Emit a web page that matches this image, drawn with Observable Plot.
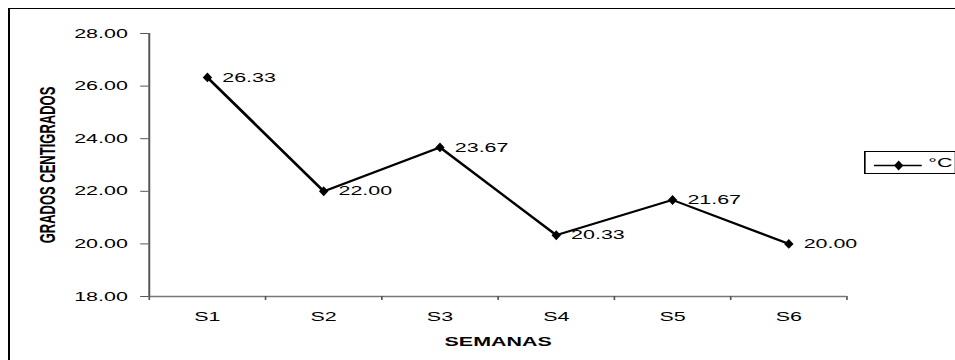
<!DOCTYPE html>
<html>
<head>
<meta charset="utf-8">
<script src="https://cdn.jsdelivr.net/npm/d3@7"></script>
<script src="https://cdn.jsdelivr.net/npm/@observablehq/plot@0.6"></script>
<style>
  html, body { margin: 0; padding: 0; background: #fff; }
  #wrap { position: relative; width: 955px; height: 360px; overflow: hidden; font-family: "Liberation Sans", Arial, sans-serif; }
  #frame { position: absolute; left: 8px; top: 8px; width: 1000px; height: 400px;
           border-top: 1.5px solid #000; border-left: 2px solid #000; }
  #chart { position: absolute; left: 0; top: 0; }
  #legend { position: absolute; left: 864px; top: 151px; width: 54px; height: 21px;
            border: 1px solid #000; background: #fff; transform: scaleX(1.6494); transform-origin: 0 0; }
  #legend svg { position: absolute; left: 0; top: 0; }
  #legend span { position: absolute; left: 38px; top: 3px; font-size: 13px; color: #000; }
</style>
</head>
<body>
<div id="wrap">
  <div id="frame"></div>
  <div id="chart"></div>
  <div id="legend"></div>
</div>
<script>
// Weekly mean temperature
const categories = ["S1", "S2", "S3", "S4", "S5", "S6"];
const temps = [26.33, 22.00, 23.67, 20.33, 21.67, 20.00];
const yTicks = [18, 20, 22, 24, 26, 28];
const seriesName = "°C";
const xTitle = "SEMANAS";
const yTitle = "GRADOS CENTIGRADOS";

const data = categories.map((week, i) => ({week, idx: i, temp: temps[i]}));
const xPos = d => d.idx + 0.5;           // centre of each week's slot
const boundaries = d3.range(0, categories.length + 1);
const centres = categories.map((_, i) => i + 0.5);

// The chart is laid out on a narrower canvas and stretched horizontally to 955px.
const baseWidth = 579;

const svg = Plot.plot({
  width: baseWidth,
  height: 360,
  marginLeft: 90,
  marginRight: 66,
  marginTop: 33,
  marginBottom: 64,
  style: {fontFamily: "'Liberation Sans', Arial, sans-serif", fontSize: "13px", color: "#000", background: "transparent"},
  x: {type: "linear", domain: [0, categories.length]},
  y: {domain: [18, 28]},
  marks: [
    // axis lines
    Plot.ruleX([0], {stroke: "#555", strokeWidth: 1.2}),
    Plot.ruleY([18], {stroke: "#777", strokeWidth: 1.5}),
    // y axis ticks and labels
    Plot.axisY({ticks: yTicks, tickFormat: d => d.toFixed(2), tickSize: 5, tickPadding: 8,
                stroke: "#555", fill: "#000", label: null}),
    // x axis: tick marks between weeks, labels under each week
    Plot.axisX({ticks: boundaries, tickFormat: () => "", tickSize: 4, stroke: "#555", label: null}),
    Plot.axisX({ticks: centres, tickFormat: d => categories[Math.floor(d)], tickSize: 0,
                tickPadding: 15, fill: "#000", label: null}),
    // axis titles
    Plot.text([yTitle], {frameAnchor: "left", dx: -61.5, rotate: -90, textAnchor: "middle",
                         fontWeight: "bold", fill: "#000"}),
    Plot.text([xTitle], {frameAnchor: "bottom", dy: 49, textAnchor: "middle", fontWeight: "bold", fill: "#000"}),
    // series
    Plot.line(data, {x: xPos, y: "temp", stroke: "#000", strokeWidth: 2}),
    Plot.dot(data, {x: xPos, y: "temp", symbol: "diamond", r: 3, fill: "#000", stroke: "none"}),
    Plot.text(data, {x: xPos, y: "temp", text: d => d.temp.toFixed(2), dx: 9, textAnchor: "start", fill: "#000"})
  ]
});

svg.setAttribute("width", 955);
svg.setAttribute("height", 360);
svg.setAttribute("preserveAspectRatio", "none");
svg.style.width = "955px";
svg.style.height = "360px";
svg.style.maxWidth = "none";
document.getElementById("chart").appendChild(svg);

// Legend: line sample with diamond marker and series name
const legend = document.getElementById("legend");
const sample = d3.create("svg").attr("width", 54).attr("height", 21);
sample.append("line").attr("x1", 5).attr("x2", 34).attr("y1", 13.5).attr("y2", 13.5)
  .attr("stroke", "#000").attr("stroke-width", 1.6);
sample.append("path").attr("d", d3.symbol(d3.symbolDiamond, 28)())
  .attr("transform", "translate(20,13.5)").attr("fill", "#000");
legend.appendChild(sample.node());
const label = document.createElement("span");
label.textContent = seriesName;
legend.appendChild(label);
</script>
</body>
</html>
